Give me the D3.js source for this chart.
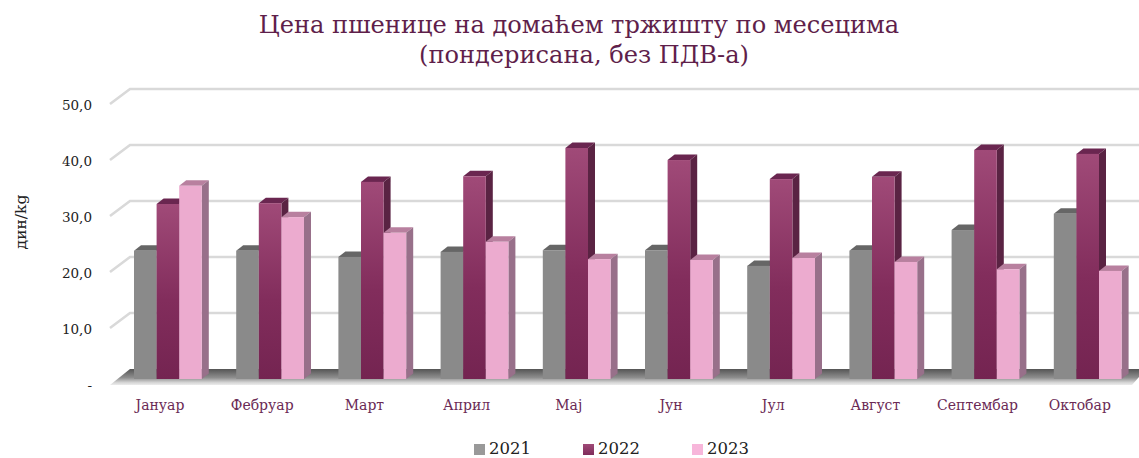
<!DOCTYPE html>
<html><head><meta charset="utf-8">
<script src="https://cdn.jsdelivr.net/npm/d3@7/dist/d3.min.js"></script>
<style>html,body{margin:0;padding:0;background:#fff}svg{display:block}text{font-family:"DejaVu Serif",serif}</style>
</head><body><svg id="c" width="1139" height="458"></svg>
<script>
const months=["Јануар","Фебруар","Март","Април","Мај","Јун","Јул","Август","Септембар","Октобар"];
const years=["2021","2022","2023"];
const v2021=[22.9,22.9,21.8,22.7,23.0,23.0,20.2,22.9,26.6,29.5];
const v2022=[31.25,31.4,35.2,36.2,41.25,39.1,35.7,36.1,40.9,40.2];
const v2023=[34.5,28.9,26.1,24.5,21.4,21.25,21.6,20.9,19.6,19.3];
const yTicks=[10,20,30,40,50];
const tickLabels=["10,0","20,0","30,0","40,0","50,0"];
const titleLines=["Цена пшенице на домаћем тржишту по месецима","(пондерисана, без ПДВ-а)"];
const seriesValues=[v2021,v2022,v2023];

const svg=d3.select("#c");
const defs=svg.append("defs");
function grad(id,stops,x2=0,y2=1){
  const g=defs.append("linearGradient").attr("id",id).attr("x1",0).attr("y1",0).attr("x2",x2).attr("y2",y2);
  stops.forEach(([o,c])=>g.append("stop").attr("offset",o).attr("stop-color",c));
}
grad("g2022",[[0,"#a04a78"],[0.55,"#822d5c"],[1,"#742451"]]);
grad("floor",[[0,"#555555"],[0.55,"#8f8f8f"],[0.85,"#d6d6d6"],[1,"#ececec"]]);
grad("l2022",[[0,"#a04a78"],[1,"#7f2c5a"]]);

const x0=110, y0=384, wallDx=20, wallDy=15, barDy=5, barDepthX=7, barDepthY=5.5;
const y=d3.scaleLinear().domain([0,50]).range([0,-280]);
const x=d3.scaleBand().domain(months).range([x0,x0+1022]).paddingInner(0).paddingOuter(0);
const inner=d3.scaleBand().domain(years).range([24,91.8]);
const fronts=["#8a8a8a",null,"#ecabcf"];
const tops=["#666666","#6a2650","#b8809f"];
const sides=["#6e6e6e","#5a2343","#98708a"];
const path=pts=>d3.line()(pts)+"Z";

// gridlines
const grid=svg.append("g").attr("fill","none").attr("stroke","#d9d9d9").attr("stroke-width",2.6);
yTicks.forEach(t=>{
  grid.append("polyline").attr("points",[[x0,y0+y(t)],[x0+wallDx,y0+y(t)-wallDy],[1139,y0+y(t)-wallDy]].join(" "));
});
// floor
svg.append("path").attr("d",path([[x0+wallDx,y0-wallDy],[1139,y0-wallDy],[1139,y0-7],[x0+1022,y0+1],[x0,y0+1]])).attr("fill","url(#floor)");

// bars
months.forEach((m,i)=>{
  const g=svg.append("g");
  years.forEach((yr,s)=>{
    const l=x(m)+inner(yr), w=inner.bandwidth(), b=y0-barDy, t=b+y(seriesValues[s][i]);
    g.append("path").attr("d",path([[l,t],[l+barDepthX,t-barDepthY],[l+w+barDepthX,t-barDepthY],[l+w,t]])).attr("fill",tops[s]);
    g.append("path").attr("d",path([[l+w,t],[l+w+barDepthX,t-barDepthY],[l+w+barDepthX,b-barDepthY],[l+w,b]])).attr("fill",sides[s]);
    g.append("rect").attr("x",l).attr("y",t).attr("width",w).attr("height",b-t)
      .attr("fill",s===1?"url(#g2022)":fronts[s]);
  });
  svg.append("text").attr("x",x(m)+50).attr("y",410).attr("text-anchor","middle")
    .attr("font-size",14).attr("fill","#6b2a55").text(m);
});

// y labels
yTicks.forEach((t,i)=>{
  svg.append("text").attr("x",92).attr("y",y0+y(t)+5.5).attr("text-anchor","end")
    .attr("font-size",13.5).attr("fill","#222").text(tickLabels[i]);
});
svg.append("text").attr("x",92).attr("y",390).attr("text-anchor","end").attr("font-size",13.5).attr("fill","#222").text("-");

svg.append("text").attr("transform","translate(26,222) rotate(-90)").attr("text-anchor","middle")
  .attr("font-size",15.5).attr("fill","#222").text("дин/kg");

// title
const titleX=[579,584];
titleLines.forEach((s,i)=>{
  svg.append("text").attr("x",titleX[i]).attr("y",33+i*30).attr("text-anchor","middle")
    .attr("font-size",24.1).attr("fill","#5f1f4b").text(s);
});

// legend
const legendX=[474,583,692], legendFill=["#999999","url(#l2022)","#f7b6da"];
years.forEach((yr,i)=>{
  svg.append("rect").attr("x",legendX[i]).attr("y",444).attr("width",11).attr("height",11).attr("fill",legendFill[i]);
  svg.append("text").attr("x",legendX[i]+15).attr("y",454).attr("font-size",16.5).attr("fill","#222").text(yr);
});
</script></body></html>
